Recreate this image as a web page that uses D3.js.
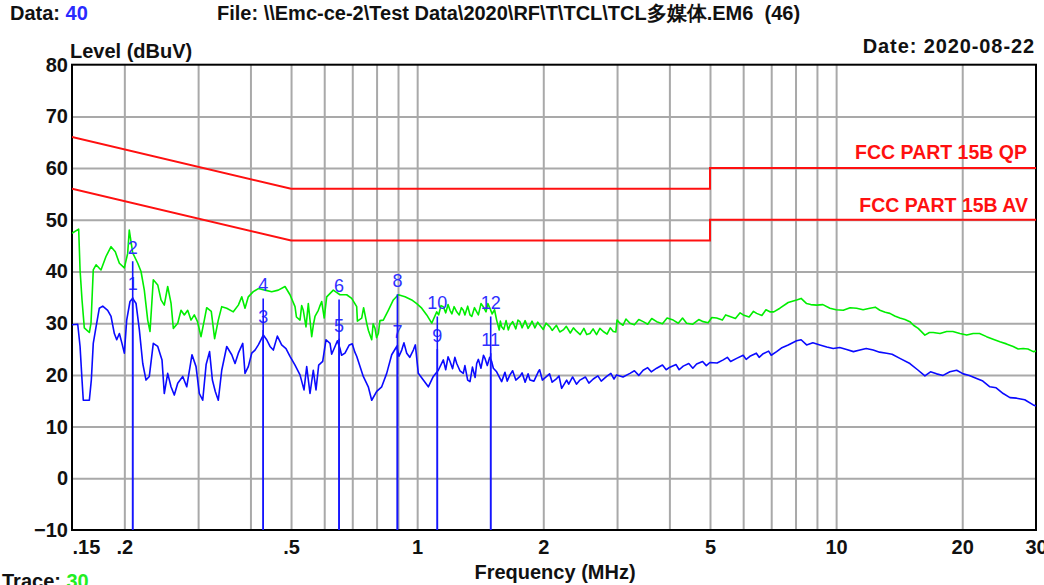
<!DOCTYPE html>
<html>
<head>
<meta charset="utf-8">
<script src="https://cdn.jsdelivr.net/npm/d3@7"></script>
<style>
  html, body { margin: 0; padding: 0; background: #fff; overflow: hidden; }
  svg { display: block; font-family: "Liberation Sans", Arial, sans-serif; }
</style>
</head>
<body>
<svg id="chart" width="1044" height="585"></svg>
<script>
// ---------------- data ----------------
const xTickValues = [0.15, 0.2, 0.5, 1, 2, 5, 10, 20, 30];
const xTickLabels = [".15", ".2", ".5", "1", "2", "5", "10", "20", "30"];
const xGridValues = [0.2, 0.3, 0.4, 0.5, 0.6, 0.7, 0.8, 0.9, 1, 2, 3, 4, 5, 6, 7, 8, 9, 10, 20];
const yTickValues = [-10, 0, 10, 20, 30, 40, 50, 60, 70, 80];

const qpLimitFreq  = [0.15, 0.5, 5, 5, 30];
const qpLimitLevel = [66, 56, 56, 60, 60];
const avLimitFreq  = [0.15, 0.5, 5, 5, 30];
const avLimitLevel = [56, 46, 46, 50, 50];

// peak (green) trace, main shape
const greenFreq = [0.150,0.1556,0.1568,0.1585,0.1605,0.1650,0.1665,0.1686,0.1712,0.1759,0.1808,0.1859,0.1903,0.1946,0.2000,0.2037,0.2055,0.2094,0.2153,0.2192,0.2232,0.2274,0.2303,0.2345,0.2403,0.2447,0.2491,0.2538,0.2585,0.2618,0.2682,0.2731,0.2781,0.2833,0.2885,0.2938,0.2990,0.3048,0.3104,0.3145,0.3225,0.3285,0.3352,0.3416,0.3511,0.3640,0.3742,0.3813,0.3882,0.3953,0.4063,0.4177,0.4333,0.4496,0.4662,0.4837,0.4971,0.5110,0.5252,0.5348,0.5428,0.5497,0.5601,0.5703,0.5808,0.5917,0.6082,0.6307,0.6543,0.6788,0.6978,0.7172,0.7372,0.7577,0.7789,0.7931,0.8077,0.8302,0.8533,0.8771,0.9016,0.9354,0.9705,0.9975,1.0253,1.0539,1.0833,1.1135,1.1546,1.1979,1.2428,1.2886,1.3369,1.3870,1.4379,1.4918,1.5477,1.5909,1.6651,1.7592,1.8588,1.9638,2.0747,2.2320,2.4027,2.5850,2.7809,2.9379,3.0483,3.2205,3.4632,3.7296,4.0839,4.3967,4.8173,5.1848,5.5794,6.0020,6.4601,6.9497,7.3424,7.6850,8.0481,8.5026,8.9828,9.6656,10.401,11.193,12.040,12.720,13.439,14.198,15.00,15.70,16.29,17.05,18.36,19.74,21.24,22.86,24.60,26.46,27.96,29.55,30.0];
const greenLevel = [47.4,48.2,40.3,34.5,29.1,28.2,30.0,40.3,41.3,40.3,42.9,44.8,43.8,41.6,40.7,43.5,48.0,43.6,41.6,40.0,36.4,30.6,28.4,38.4,37.4,34.5,33.5,37.1,33.9,29.0,30.0,32.5,31.6,32.5,30.6,31.6,30.3,27.4,30.6,33.0,32.3,27.0,30.6,33.2,32.9,32.2,33.5,35.1,32.9,35.1,36.1,36.7,36.4,36.1,36.4,37.1,35.5,33.2,30.6,32.5,29.3,33.8,27.4,31.3,32.5,34.2,35.1,36.4,35.5,35.5,34.8,33.2,31.0,30.0,26.8,29.0,28.0,30.6,32.5,34.5,35.5,35.1,34.5,33.8,32.9,31.6,30.0,32.2,33.2,32.5,32.2,32.5,31.6,32.2,33.2,32.9,30.6,29.3,29.6,30.3,29.6,29.6,29.3,28.7,28.4,28.0,28.4,28.4,30.0,30.0,30.3,30.3,30.6,30.0,30.3,31.0,31.3,31.6,31.9,32.2,32.9,34.0,34.5,33.8,33.5,32.9,32.5,32.9,32.9,32.5,31.9,31.0,30.3,29.0,27.7,28.2,28.4,28.0,28.0,27.4,26.4,25.5,25.1,24.5,24.6];
// peak (green) trace, fine ripple
const greenRippleFreq = [0.515,0.53,0.565,0.585,0.60,0.72,0.745,0.765,0.785,0.80,0.815,1.125,1.14,1.17,1.185,1.21,1.225,1.26,1.275,1.30,1.32,1.35,1.37,1.40,1.42,1.46,1.475,1.51,1.53,1.57,1.58,1.61,1.63,1.65,1.69,1.72,1.74,1.78,1.81,1.84,1.88,1.91,1.94,2.0,2.03,2.1,2.15,2.19,2.27,2.32,2.36,2.45,2.5,2.54,2.63,2.68,2.73,2.84,2.89,2.98,3.0,3.1,3.15,3.3,3.38,3.55,3.63,3.85,3.95,4.2,4.3,4.55,4.7,4.95,5.05,5.35,5.45,5.75,5.9,6.2,6.35,6.65,6.8,7.1,8.25,8.7,9.3,10.0,10.8,11.6,12.4,13.1,13.8,14.6,15.3,16.7,17.7,19.0,20.5,22.0,23.7,25.5,27.2,28.7];
const greenRippleLevel = [31.2,33.4,29.6,33.2,31.0,30.4,33.0,28.6,29.9,27.2,30.5,31.6,33.4,32.0,33.6,31.8,33.2,31.6,33.0,31.6,33.3,31.3,33.0,31.6,33.8,32.2,33.8,31.8,32.6,28.7,30.4,28.8,30.5,28.7,30.3,28.9,30.6,29.1,30.5,29.0,30.4,29.1,30.2,28.8,30.0,28.6,29.6,28.3,29.4,28.1,29.1,27.8,29.0,27.8,28.9,27.8,29.0,27.9,29.1,28.3,30.6,29.6,30.8,29.7,30.7,29.8,30.9,29.9,31.0,30.0,31.0,29.8,30.7,30.1,31.1,30.6,31.6,30.9,32.0,31.2,32.3,31.5,32.6,32.2,34.8,33.6,33.6,32.6,33.0,32.6,33.1,32.1,31.4,30.7,29.6,28.2,28.0,28.4,27.7,28.0,26.9,26.0,25.0,25.0];

// average (blue) trace, main shape
const blueFreq = [0.150,0.1548,0.1568,0.1585,0.1596,0.1650,0.1668,0.1686,0.1712,0.1743,0.1776,0.1825,0.1859,0.1893,0.1918,0.1946,0.1974,0.2000,0.2026,0.2063,0.2094,0.2133,0.2172,0.2213,0.2253,0.2294,0.2345,0.2403,0.2460,0.2491,0.2538,0.2585,0.2632,0.2682,0.2757,0.2818,0.2901,0.2966,0.3020,0.3077,0.3135,0.3195,0.3245,0.3297,0.3352,0.3416,0.3511,0.3609,0.3675,0.3742,0.3834,0.3882,0.3953,0.4028,0.4102,0.4177,0.4293,0.4374,0.4454,0.4536,0.4637,0.4748,0.4863,0.4971,0.5110,0.5252,0.5369,0.5449,0.5549,0.5650,0.5735,0.5820,0.5950,0.6059,0.6194,0.6366,0.6543,0.6725,0.6886,0.7172,0.7437,0.7644,0.7789,0.8006,0.8229,0.8458,0.8694,0.8936,0.9186,0.9442,0.9791,1.0063,1.0344,1.0632,1.0928,1.1233,1.1546,1.1979,1.2428,1.2886,1.3369,1.3870,1.4514,1.5058,1.5477,1.5909,1.6651,1.7592,1.8588,1.9455,2.0374,2.1527,2.2125,2.2742,2.4467,2.6322,2.8334,2.9929,3.2205,3.4632,3.7296,4.0107,4.3153,4.6455,4.9974,5.3771,5.7886,6.2256,6.6984,7.2105,7.6850,8.0481,8.5026,9.1475,9.8426,10.594,11.397,12.260,13.197,14.198,15.00,15.70,16.29,17.37,18.69,20.11,21.65,23.28,25.05,26.96,29.55,30.0];
const blueLevel = [29.7,29.8,25.5,19.0,15.1,15.1,19.0,26.1,29.3,32.9,33.3,32.5,31.3,28.0,26.8,28.0,26.1,24.2,30.6,34.2,34.8,33.8,28.7,22.2,19.0,19.7,26.1,25.5,22.9,16.4,20.3,17.7,16.1,18.4,19.7,17.7,23.9,21.6,16.4,15.1,22.0,24.5,19.0,16.8,15.1,20.9,25.5,23.9,22.2,24.2,26.1,20.3,21.6,24.2,24.8,25.8,27.7,26.8,25.5,24.8,27.5,25.8,25.1,23.6,21.9,20.0,17.1,21.6,16.4,20.9,17.1,21.9,22.6,26.8,26.1,25.5,25.1,24.2,25.8,23.6,19.7,17.7,15.1,16.8,17.7,20.3,23.9,25.5,24.8,24.2,24.8,20.3,19.0,17.7,19.7,20.9,22.9,22.6,22.2,20.3,18.7,22.2,23.2,22.6,20.6,18.7,20.0,19.7,19.0,20.6,19.7,19.3,17.4,19.0,19.0,19.2,19.7,20.0,20.3,20.9,21.3,21.5,21.7,22.1,22.4,22.9,23.2,23.6,24.1,24.5,25.8,26.6,25.8,25.8,25.1,24.9,24.8,24.8,24.2,23.2,22.2,20.9,19.8,20.2,20.6,20.2,19.3,17.7,16.4,15.5,14.2,14.0];
// average (blue) trace, fine ripple
const blueRippleFreq = [0.625,0.645,0.66,0.70,0.71,0.905,0.93,0.96,0.99,1.17,1.185,1.215,1.23,1.265,1.30,1.32,1.355,1.375,1.40,1.42,1.44,1.47,1.49,1.52,1.62,1.64,1.69,1.72,1.78,1.81,1.84,1.9,1.96,1.99,2.07,2.1,2.18,2.3,2.35,2.4,2.52,2.57,2.7,2.75,2.9,2.95,3.1,3.3,3.38,3.55,3.62,3.85,3.93,4.15,4.22,4.45,4.55,4.8,4.9,5.2,5.5,5.6,6.0,6.1,6.45,6.55,6.9,7.0,7.4,8.25,8.8,9.5,10.2,11.0,11.8,12.7,13.6,16.8,18.0,19.4,20.8,22.4,24.1,26.0,28.2];
const blueRippleLevel = [24.0,26.6,23.8,26.0,24.4,23.6,26.2,23.4,25.8,21.0,23.5,21.2,23.4,20.8,21.8,19.0,21.5,19.5,23.0,21.3,23.8,21.8,23.4,21.3,20.5,18.8,20.8,19.0,20.4,18.6,20.2,18.8,21.0,19.0,20.2,18.6,19.8,18.2,19.6,18.2,19.6,18.4,19.8,18.8,20.3,19.2,19.6,20.8,19.9,21.4,20.6,21.9,21.0,22.0,21.0,22.2,21.3,22.6,21.8,22.3,23.4,22.6,23.8,23.0,24.2,23.4,24.6,23.8,25.2,26.8,26.2,25.4,25.3,24.5,25.1,24.4,24.0,20.6,19.9,20.9,19.9,18.8,17.5,15.6,15.2];

const markerIds   = ["1", "2", "3", "4", "5", "6", "7", "8", "9", "10", "11", "12"];
const markerFreq  = [0.2094, 0.2094, 0.429, 0.429, 0.651, 0.651, 0.897, 0.897, 1.117, 1.117, 1.498, 1.498];
const markerLevel = [35.0, 42.0, 28.7, 34.8, 27.0, 34.6, 25.8, 35.6, 25.0, 31.3, 24.2, 31.3];

// ---------------- drawing ----------------
const svg = d3.select("#chart");
const L = 72, R = 1036, T = 64.7, B = 530;
const x = d3.scaleLog().domain([0.15, 30]).range([L, R]);
const y = d3.scaleLinear().domain([-10, 80]).range([B, T]);
const bold = "bold";
const FONT = "Liberation Sans, Arial, sans-serif";

function series(f1, v1, f2, v2) {
  const pts = f1.map((d, i) => [d, v1[i]]).concat(f2.map((d, i) => [d, v2[i]]));
  return pts.sort((a, b) => a[0] - b[0]);
}

svg.append("defs").append("clipPath").attr("id", "plotclip")
  .append("rect").attr("x", L).attr("y", T).attr("width", R - L).attr("height", B - T);

// gridlines
const gx = svg.append("g").attr("transform", `translate(0,${B})`)
  .call(d3.axisBottom(x).tickValues(xGridValues).tickSize(-(B - T)).tickFormat(""));
gx.select(".domain").remove();
gx.selectAll("line").attr("stroke", "#a9a9a9").attr("stroke-width", 2);

const gy = svg.append("g").attr("transform", `translate(${L},0)`)
  .call(d3.axisLeft(y).tickValues(yTickValues.slice(1, -1)).tickSize(-(R - L)).tickFormat(""));
gy.select(".domain").remove();
gy.selectAll("line").attr("stroke", "#a9a9a9").attr("stroke-width", 2);

// plot frame
svg.append("rect").attr("x", L).attr("y", T).attr("width", R - L).attr("height", B - T)
  .attr("fill", "none").attr("stroke", "#000").attr("stroke-width", 2);

// axes labels
const ax = svg.append("g").attr("transform", `translate(0,${B})`)
  .call(d3.axisBottom(x).tickValues(xTickValues).tickSize(0).tickPadding(10)
    .tickFormat((d, i) => xTickLabels[i]));
ax.select(".domain").remove();
ax.selectAll("text").attr("font-size", 20).attr("font-weight", bold)
  .attr("font-family", FONT).attr("fill", "#111")
  .attr("text-anchor", (d, i) => i === 0 ? "start" : "middle");

const ay = svg.append("g").attr("transform", `translate(${L},0)`)
  .call(d3.axisLeft(y).tickValues(yTickValues).tickSize(0).tickPadding(4).tickFormat(d3.format("d")));
ay.select(".domain").remove();
ay.selectAll("text").attr("font-size", 20).attr("font-weight", bold)
  .attr("font-family", FONT).attr("fill", "#111");

const line = d3.line().x(d => x(d[0])).y(d => y(d[1]));
const plot = svg.append("g").attr("clip-path", "url(#plotclip)");

// limit lines
[[qpLimitFreq, qpLimitLevel], [avLimitFreq, avLimitLevel]].forEach(([f, v]) => {
  plot.append("path").datum(f.map((d, i) => [d, v[i]])).attr("d", line)
    .attr("fill", "none").attr("stroke", "#ff1010").attr("stroke-width", 2);
});

// traces
plot.append("path").datum(series(blueFreq, blueLevel, blueRippleFreq, blueRippleLevel)).attr("d", line)
  .attr("fill", "none").attr("stroke", "#0a0aff").attr("stroke-width", 1.6).attr("stroke-linejoin", "round");
plot.append("path").datum(series(greenFreq, greenLevel, greenRippleFreq, greenRippleLevel)).attr("d", line)
  .attr("fill", "none").attr("stroke", "#00ee00").attr("stroke-width", 1.6).attr("stroke-linejoin", "round");

// markers
const mk = svg.append("g");
markerIds.forEach((id, i) => {
  mk.append("line").attr("x1", x(markerFreq[i])).attr("x2", x(markerFreq[i]))
    .attr("y1", y(-10)).attr("y2", y(markerLevel[i]))
    .attr("stroke", "#1515ff").attr("stroke-width", 1.6);
  mk.append("text").attr("x", x(markerFreq[i])).attr("y", y(markerLevel[i]) - 7)
    .attr("text-anchor", "middle").attr("font-size", 18).attr("fill", "#3030ff").text(id);
});

// limit labels
svg.append("text").attr("x", 1027).attr("y", 159).attr("text-anchor", "end")
  .attr("font-size", 19.5).attr("font-weight", bold).attr("fill", "#ff1010").text("FCC PART 15B QP");
svg.append("text").attr("x", 1028).attr("y", 212).attr("text-anchor", "end")
  .attr("font-size", 19.5).attr("font-weight", bold).attr("fill", "#ff1010").text("FCC PART 15B AV");

// header / titles
const t1 = svg.append("text").attr("x", 10).attr("y", 20).attr("font-size", 20).attr("font-weight", bold).attr("fill", "#111");
t1.append("tspan").text("Data: ");
t1.append("tspan").attr("fill", "#2a2aff").text("40");
svg.append("text").attr("x", 217).attr("y", 20).attr("font-size", 20).attr("font-weight", bold).attr("fill", "#111")
  .style("white-space", "pre")
  .text("File: \\\\Emc-ce-2\\Test Data\\2020\\RF\\T\\TCL\\TCL多媒体.EM6  (46)");
svg.append("text").attr("x", 1035).attr("y", 53).attr("text-anchor", "end").attr("font-size", 20)
  .attr("letter-spacing", 0.9).attr("font-weight", bold).attr("fill", "#111").text("Date: 2020-08-22");
svg.append("text").attr("x", 70).attr("y", 58).attr("font-size", 20).attr("font-weight", bold)
  .attr("fill", "#111").text("Level (dBuV)");
svg.append("text").attr("x", 555).attr("y", 579).attr("text-anchor", "middle").attr("font-size", 20)
  .attr("font-weight", bold).attr("fill", "#111").text("Frequency (MHz)");
const t2 = svg.append("text").attr("x", 2).attr("y", 588).attr("font-size", 20).attr("font-weight", bold).attr("fill", "#111");
t2.append("tspan").text("Trace: ");
t2.append("tspan").attr("fill", "#22ee22").text("30");
</script>
</body>
</html>
